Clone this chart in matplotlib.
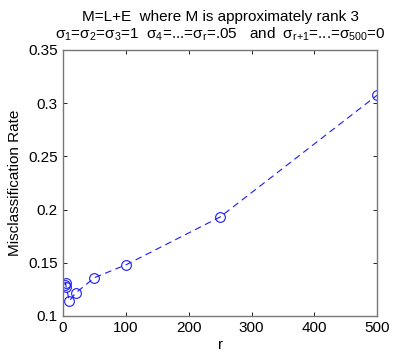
import matplotlib
matplotlib.use('Agg')
from matplotlib import pyplot as plt

plt.rcParams['font.family'] = ['Liberation Sans', 'DejaVu Sans']
plt.rcParams['mathtext.fontset'] = 'custom'
plt.rcParams['mathtext.rm'] = 'Liberation Sans'
plt.rcParams['mathtext.it'] = 'Liberation Sans:italic'

# rank r and the misclassification rate
r_vals = [3, 4, 5, 10, 20, 50, 100, 250, 500]
miss_rate = [0.129, 0.131, 0.127, 0.114, 0.1215, 0.136, 0.148, 0.193, 0.3075]

x_ticks = [0, 100, 200, 300, 400, 500]
y_ticks = [0.1, 0.15, 0.2, 0.25, 0.3, 0.35]
y_ticklabels = ['0.1', '0.15', '0.2', '0.25', '0.3', '0.35']

# \text{} keeps mathtext from padding the = signs and dots
title = ('M=L+E  where M is approximately rank 3\n'
         r'$\mathregular{σ_1\text{=}σ_2\text{=}σ_3\text{=1  }σ_4\text{=...=}σ_r'
         r'\text{=.05   and  }σ_{\text{r+1}}\text{=...=}σ_{500}\text{=0}}$')

fig = plt.figure(figsize=(4.15, 3.59), dpi=100)
ax = fig.add_axes([0.152, 0.120, 0.757, 0.741])

ax.plot(r_vals, miss_rate, color='#1a1aff', linestyle=(0, (6, 4)), linewidth=0.8,
        marker='o', markersize=7, markerfacecolor='none', markeredgewidth=0.8)

ax.set_xlim(0, 500)
ax.set_ylim(0.1, 0.35)
ax.set_xticks(x_ticks)
ax.set_yticks(y_ticks)
ax.set_yticklabels(y_ticklabels)
ax.tick_params(direction='in', top=True, right=True, labelsize=11, length=3,
               width=0.6, pad=4)
for s in ax.spines.values():
    s.set_color('#777777')
    s.set_linewidth(1.0)

ax.set_xlabel('r', fontsize=11, labelpad=2)
ax.set_ylabel('Misclassification Rate', fontsize=11, labelpad=4)
ax.set_title(title, fontsize=11, pad=8, linespacing=1.15)

fig.savefig('out.png', dpi=100)
